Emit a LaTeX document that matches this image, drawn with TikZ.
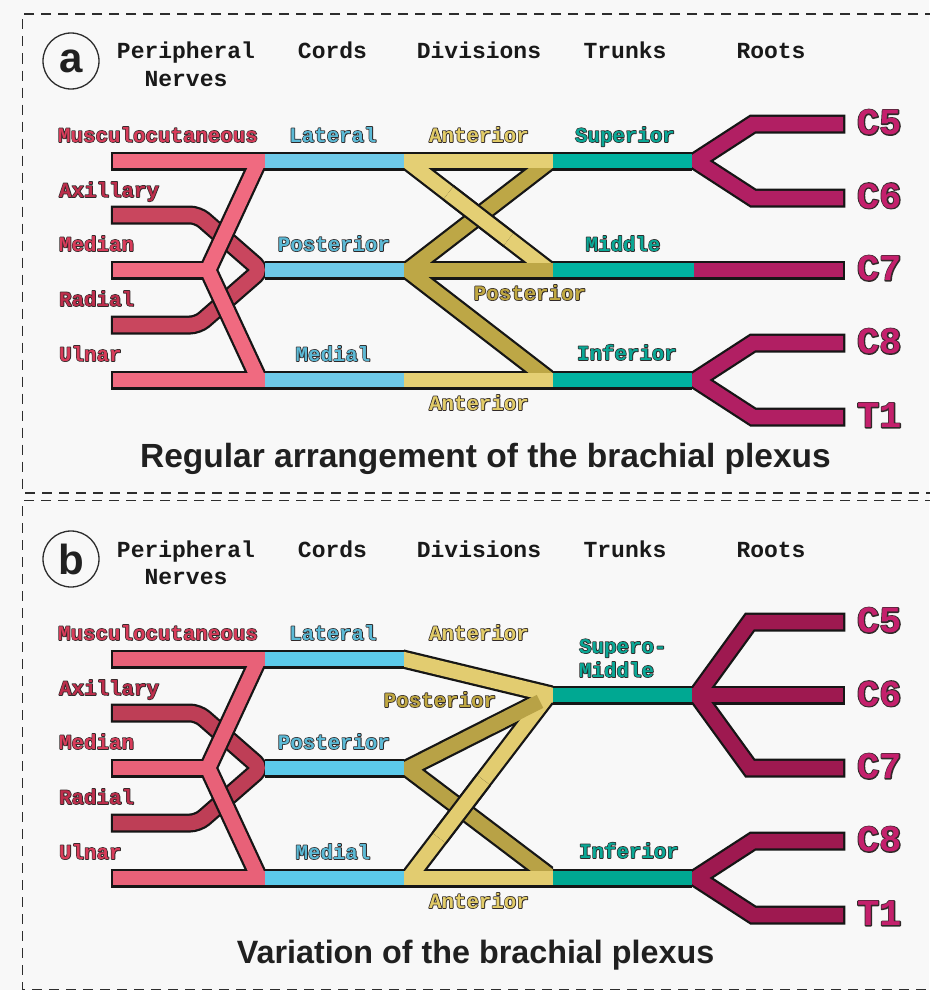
\documentclass[tikz,border=0pt]{standalone}
\usepackage{fontspec}
\setmainfont{Liberation Sans}
\setmonofont{Liberation Mono}

\definecolor{bgc}{RGB}{248,248,248}
\definecolor{outl}{RGB}{22,22,22}
\definecolor{frm}{RGB}{45,45,45}
\definecolor{hdrc}{RGB}{25,25,25}
\definecolor{ttlc}{RGB}{32,32,32}
% fibre colours, regular arrangement
\definecolor{pkA}{RGB}{240,106,128}
\definecolor{pdA}{RGB}{201,70,94}
\definecolor{blA}{RGB}{110,201,232}
\definecolor{ylA}{RGB}{228,207,116}
\definecolor{olA}{RGB}{189,167,70}
\definecolor{tlA}{RGB}{0,178,160}
\definecolor{mgA}{RGB}{177,31,99}
% fibre colours, variation
\definecolor{pkB}{RGB}{232,97,120}
\definecolor{pdB}{RGB}{190,62,86}
\definecolor{blB}{RGB}{92,202,234}
\definecolor{ylB}{RGB}{226,204,112}
\definecolor{olB}{RGB}{184,162,70}
\definecolor{tlB}{RGB}{0,168,146}
\definecolor{mgB}{RGB}{158,25,80}
% label fills
\definecolor{lnv}{RGB}{216,60,90}
\definecolor{lnd}{RGB}{190,46,76}
\definecolor{lcd}{RGB}{92,186,214}
\definecolor{lan}{RGB}{226,204,104}
\definecolor{lps}{RGB}{192,168,66}
\definecolor{ltr}{RGB}{10,168,150}
\definecolor{lrt}{RGB}{196,32,108}

% outlined label: a dark stroked copy (PDF text render mode 1) under the filled text
\newcommand\olab[3][1.5]{\leavevmode
  \rlap{\special{pdf:literal direct 0.19 0.16 0.16 RG #1 w 1 j 1 Tr}#3%
        \special{pdf:literal direct 0 Tr 0.3985 w 0 j}}%
  \textcolor{#2}{#3}}

\tikzset{
  fibout/.style={draw=outl, line width=19pt, line join=miter, line cap=butt},
  fibin/.style={line width=14.5pt, line join=miter, line cap=butt},
  lbl/.style={font=\ttfamily\bfseries\fontsize{20.8}{23}\selectfont, inner sep=0pt, anchor=base},
  lblw/.style={lbl, anchor=base west},
  hdr/.style={font=\ttfamily\bfseries\fontsize{23}{26}\selectfont, text=hdrc, inner sep=0pt, anchor=base},
  rootlbl/.style={font=\ttfamily\bfseries\fontsize{37}{40}\selectfont, inner sep=0pt, anchor=base west},
  ttl/.style={font=\bfseries\fontsize{33.5}{36}\selectfont, text=ttlc, inner sep=0pt, anchor=base},
  boxedge/.style={draw=frm, line width=1.8pt, dash pattern=on 10pt off 7pt},
  paneltag/.style={circle, draw=frm, line width=1.3pt, minimum size=56pt, inner sep=0pt,
    font=\bfseries\fontsize{42}{42}\selectfont, text=ttlc},
}

% parts shared by both panels: headings, nerves, cords and their labels
\newcommand\panelcommon[4]{% #1 panel letter, #2 pink, #3 deep pink, #4 blue
  \node[paneltag] (tag-#1) at (71,61) {#1};
  \node[hdr] (hd-per-#1) at (186,59) {Peripheral};
  \node[hdr] (hd-ner-#1) at (186,86) {Nerves};
  \node[hdr] (hd-cor-#1) at (332.5,59) {Cords};
  \node[hdr] (hd-div-#1) at (479,59) {Divisions};
  \node[hdr] (hd-tru-#1) at (625,59) {Trunks};
  \node[hdr] (hd-roo-#1) at (771,59) {Roots};
  % peripheral nerves
  \begin{scope}
    \clip (100,100) rectangle (265,420);
    \draw[fibout, rounded corners=8pt] (110.75,215) -- (198,215) -- (261,270) -- (198,325) -- (110.75,325);
    \draw[fibin, draw=#3, rounded corners=8pt] (113,215) -- (198,215) -- (261,270) -- (198,325) -- (113,325);
    \draw[fibout] (110.75,161) -- (265,161);
    \draw[fibout] (110.75,270) -- (208,270);
    \draw[fibout] (110.75,380) -- (265,380);
    \draw[fibout] (260,158) -- (208,270) -- (260,382);
    \draw[fibin, draw=#2] (113,161) -- (265,161);
    \draw[fibin, draw=#2] (113,270) -- (208,270);
    \draw[fibin, draw=#2] (113,380) -- (265,380);
    \draw[fibin, draw=#2] (260,158) -- (208,270) -- (260,382);
  \end{scope}
  % cords
  \draw[fibout] (265,161) -- (404,161);
  \draw[fibout] (265,270) -- (404,270);
  \draw[fibout] (265,380) -- (404,380);
  \draw[fibin, draw=#4] (265,161) -- (404,161);
  \draw[fibin, draw=#4] (265,270) -- (404,270);
  \draw[fibin, draw=#4] (265,380) -- (404,380);
  % labels
  \node[lblw] (l-mus-#1) at (58,142) {\olab{lnv}{Musculocutaneous}};
  \node[lblw] (l-axi-#1) at (59,197) {\olab{lnd}{Axillary}};
  \node[lblw] (l-med-#1) at (59,251) {\olab{lnv}{Median}};
  \node[lblw] (l-rad-#1) at (59,306) {\olab{lnd}{Radial}};
  \node[lblw] (l-uln-#1) at (59,361) {\olab{lnv}{Ulnar}};
  \node[lbl] (l-lat-#1) at (333,142) {\olab{lcd}{Lateral}};
  \node[lbl] (l-pco-#1) at (334,251) {\olab{lcd}{Posterior}};
  \node[lbl] (l-mdl-#1) at (333,361) {\olab{lcd}{Medial}};
  \node[lbl] (l-ant1-#1) at (479,142) {\olab{lan}{Anterior}};
  \node[lbl] (l-ant2-#1) at (479,410) {\olab{lan}{Anterior}};
  \node[rootlbl] (r-c5-#1) at (857,134.5) {\olab[2.2]{lrt}{C5}};
  \node[rootlbl] (r-c6-#1) at (857,208) {\olab[2.2]{lrt}{C6}};
  \node[rootlbl] (r-c7-#1) at (857,280.5) {\olab[2.2]{lrt}{C7}};
  \node[rootlbl] (r-c8-#1) at (857,353.5) {\olab[2.2]{lrt}{C8}};
  \node[rootlbl] (r-t1-#1) at (857,427.5) {\olab[2.2]{lrt}{T1}};
}

\begin{document}
\begin{tikzpicture}[x=1pt,y=-1pt]
\useasboundingbox (0,0) rectangle (929,990);
\fill[bgc] (0,0) rectangle (929,990);

% dashed panel frames
\draw[boxedge] (935,14) -- (22.5,14) -- (22.5,493) -- (935,493);
\draw[boxedge] (935,500.5) -- (22.5,500.5) -- (22.5,989.5) -- (935,989.5);

% ---------- panel a: regular arrangement ----------
\begin{scope}
  \panelcommon{a}{pkA}{pdA}{blA}
  % divisions
  \begin{scope}
    \clip (404,100) rectangle (553,420);
    \draw[fibout] (404,161) -- (553,161);
    \draw[fibout] (404,270) -- (553,270);
    \draw[fibout] (404,380) -- (553,380);
    \draw[fibout] (549.8,161) -- (407.9,270.5);
    \draw[fibout] (407.9,270.5) -- (549.1,379.5);
    \draw[fibout] (407.2,161) -- (549.1,270.5);
    \draw[fibin, draw=olA] (549.8,161) -- (407.9,270.5);
    \draw[fibin, draw=olA] (407.9,270.5) -- (549.1,379.5);
    \draw[fibin, draw=ylA] (407.2,161) -- (549.1,270.5);
    \draw[fibin, draw=olA] (404,270) -- (553,270);
    \draw[fibin, draw=ylA] (404,161) -- (553,161);
    \draw[fibin, draw=ylA] (404,380) -- (553,380);
    % anterior division passes over the posterior one
    \draw[fibout] (448.5,192.85) -- (508.5,239.2);
    \draw[fibin, draw=ylA] (448.5,192.85) -- (508.5,239.2);
  \end{scope}
  % trunks
  \draw[fibout] (553,161) -- (692,161);
  \draw[fibout] (553,270) -- (694,270);
  \draw[fibout] (553,380) -- (692,380);
  \draw[fibin, draw=tlA] (553,161) -- (692,161);
  \draw[fibin, draw=tlA] (553,270) -- (694,270);
  \draw[fibin, draw=tlA] (553,380) -- (692,380);
  % roots
  \begin{scope}
    \clip (692,100) rectangle (929,440);
    \draw[fibout] (845.25,124) -- (753,124) -- (696,161) -- (753,198) -- (845.25,198);
    \draw[fibout] (694,270) -- (845.25,270);
    \draw[fibout] (845.25,343) -- (753,343) -- (696,380) -- (753,417) -- (845.25,417);
    \draw[fibin, draw=mgA] (843,124) -- (753,124) -- (696,161) -- (753,198) -- (843,198);
    \draw[fibin, draw=mgA] (694,270) -- (843,270);
    \draw[fibin, draw=mgA] (843,343) -- (753,343) -- (696,380) -- (753,417) -- (843,417);
  \end{scope}
  \node[lbl] (l-sup-a) at (625,142) {\olab{ltr}{Superior}};
  \node[lbl] (l-mid-a) at (623,251) {\olab{ltr}{Middle}};
  \node[lbl] (l-pdv-a) at (530,300) {\olab{lps}{Posterior}};
  \node[lbl] (l-inf-a) at (627,360) {\olab{ltr}{Inferior}};
\end{scope}

% ---------- panel b: variation ----------
\begin{scope}[yshift=-498pt]
  \panelcommon{b}{pkB}{pdB}{blB}
  % divisions
  \begin{scope}
    \clip (404,100) rectangle (553,420);
    \draw[fibout] (404,380) -- (553,380);
    \draw[fibout] (540,203.4) -- (407.6,270.4) -- (551.6,379.5);
    \draw[fibout] (400,160.3) -- (557,198.2);
    \draw[fibout] (408.7,380) -- (548.2,197);
    \draw[fibin, draw=olB] (540,203.4) -- (407.6,270.4) -- (551.6,379.5);
    \draw[fibin, draw=ylB] (400,160.3) -- (557,198.2);
    \draw[fibin, draw=ylB] (408.7,380) -- (548.2,197);
    \draw[fibin, draw=olB] (490,228.7) -- (540,203.4);
    \draw[fibin, draw=ylB] (404,380) -- (553,380);
    % anterior division passes over the posterior one
    \draw[fibout] (439.2,340) -- (483.4,282);
    \draw[fibin, draw=ylB] (439.2,340) -- (483.4,282);
  \end{scope}
  % trunks
  \draw[fibout] (553,197) -- (692,197);
  \draw[fibout] (553,380) -- (692,380);
  \draw[fibin, draw=tlB] (553,197) -- (692,197);
  \draw[fibin, draw=tlB] (553,380) -- (692,380);
  % roots
  \begin{scope}
    \clip (692,100) rectangle (929,440);
    \draw[fibout] (845.25,124) -- (750,124) -- (697,197) -- (750,270) -- (845.25,270);
    \draw[fibout] (692,197) -- (845.25,197);
    \draw[fibout] (845.25,343) -- (753,343) -- (696,380) -- (753,417) -- (845.25,417);
    \draw[fibin, draw=mgB] (843,124) -- (750,124) -- (697,197) -- (750,270) -- (843,270);
    \draw[fibin, draw=mgB] (692,197) -- (843,197);
    \draw[fibin, draw=mgB] (843,343) -- (753,343) -- (696,380) -- (753,417) -- (843,417);
  \end{scope}
  \node[lblw] (l-sm1-b) at (579,155) {\olab{ltr}{Supero-}};
  \node[lblw] (l-sm2-b) at (579,179) {\olab{ltr}{Middle}};
  \node[lbl] (l-pdv-b) at (440,209) {\olab{lps}{Posterior}};
  \node[lbl] (l-inf-b) at (629,360) {\olab{ltr}{Inferior}};
\end{scope}

% captions
\node[ttl] (cap-a) at (485.5,467) {Regular arrangement of the brachial plexus};
\node[ttl, font=\bfseries\fontsize{32.3}{36}\selectfont] (cap-b) at (475.5,963) {Variation of the brachial plexus};
\end{tikzpicture}
\end{document}
